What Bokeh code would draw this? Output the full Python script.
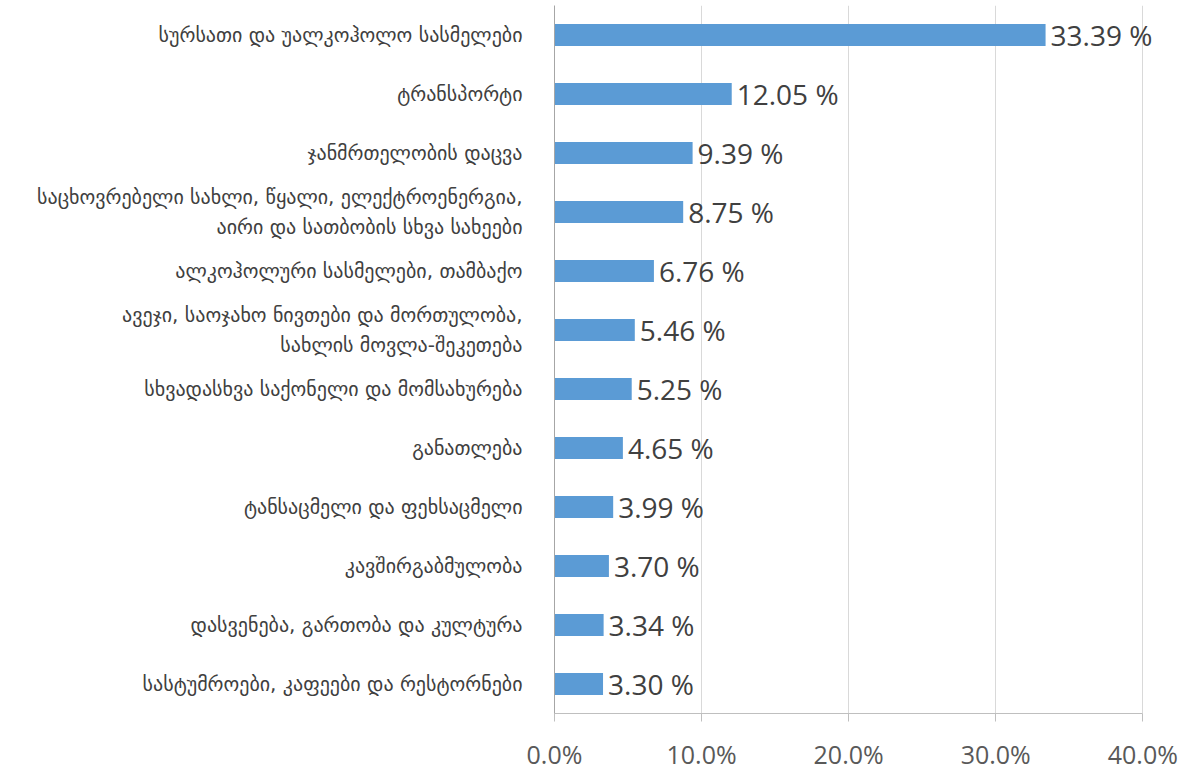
from bokeh.plotting import figure
from bokeh.models import ColumnDataSource, NumeralTickFormatter, FixedTicker, Range1d, FactorRange, LabelSet
from bokeh.core.properties import value
from bokeh.embed import file_html
from bokeh.resources import INLINE

categories = [
    "სურსათი და უალკოჰოლო სასმელები",
    "ტრანსპორტი",
    "ჯანმრთელობის დაცვა",
    "საცხოვრებელი სახლი, წყალი, ელექტროენერგია,\nაირი და სათბობის სხვა სახეები",
    "ალკოჰოლური სასმელები, თამბაქო",
    "ავეჯი, საოჯახო ნივთები და მორთულობა,\nსახლის მოვლა-შეკეთება",
    "სხვადასხვა საქონელი და მომსახურება",
    "განათლება",
    "ტანსაცმელი და ფეხსაცმელი",
    "კავშირგაბმულობა",
    "დასვენება, გართობა და კულტურა",
    "სასტუმროები, კაფეები და რესტორნები",
]
values = [33.39, 12.05, 9.39, 8.75, 6.76, 5.46, 5.25, 4.65, 3.99, 3.70, 3.34, 3.30]
x_ticks = [0, 10, 20, 30, 40]

src = ColumnDataSource(dict(
    cat=categories,
    val=[v / 100 for v in values],
    lbl=["{:.2f} %".format(v) for v in values],
))

p = figure(
    width=1184, height=773,
    y_range=FactorRange(factors=list(reversed(categories)), range_padding=0),
    x_range=Range1d(0, 0.41),
    output_backend="svg", toolbar_location=None,
    min_border_left=554, min_border_right=27, min_border_top=5, min_border_bottom=55,
)
p.outline_line_color = None
p.background_fill_color = "white"

p.hbar(y="cat", right="val", left=0, height=0.37, source=src,
       fill_color="#5B9BD5", line_color=None)
labels = LabelSet(x="val", y="cat", text="lbl", source=src, x_offset=5,
                  text_baseline="middle", text_align="left",
                  text_font=value("Open Sans"), text_font_size="28px", text_color="#404040")
p.add_layout(labels)

p.xaxis.ticker = FixedTicker(ticks=[t / 100 for t in x_ticks])
p.xaxis.bounds = (0, 0.40)
p.xaxis.formatter = NumeralTickFormatter(format="0.0%")
p.xaxis.major_label_text_font = "Open Sans"
p.xaxis.major_label_text_font_size = "25px"
p.xaxis.major_label_text_color = "#595959"
p.xaxis.major_label_standoff = 15
p.xaxis.axis_line_color = "#BFBFBF"
p.xaxis.major_tick_line_color = "#BFBFBF"
p.xaxis.major_tick_out = 8
p.xaxis.major_tick_in = 0
p.xaxis.minor_tick_line_color = None

p.yaxis.major_label_text_font = "DejaVu Sans"
p.yaxis.major_label_text_font_size = "20px"
p.yaxis.major_label_text_color = "#404040"
p.yaxis.major_label_standoff = 26
p.yaxis.major_label_text_line_height = 1.25
p.yaxis.axis_line_color = "#A6A6A6"
p.yaxis.major_tick_line_color = None
p.yaxis.minor_tick_line_color = None

p.xgrid.grid_line_color = "#D9D9D9"
p.xgrid.bounds = (0, 0.40)
p.ygrid.grid_line_color = None

open("out.html", "w").write(file_html(p, INLINE))
